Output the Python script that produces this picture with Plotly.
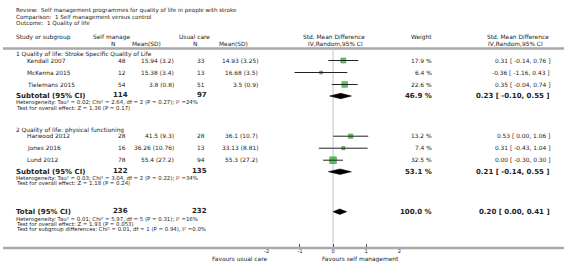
import math
import plotly.graph_objects as go

# ---------------- data ----------------
title_lines = [
    "Review:  Self management programmes for quality of life in people with stroke",
    "Comparison:  1 Self management versus control",
    "Outcome:  1 Quality of life",
]
group_titles = [
    "1 Quality of life: Stroke Specific Quality of Life",
    "2 Quality of life: physical functioning",
]
studies = [
    ["Kendall 2007", "McKenna 2015", "Tielemans 2015"],
    ["Harwood 2012", "Jones 2016", "Lund 2012"],
]
sm_n = [[48, 12, 54], [28, 16, 78]]
sm_mean = [["15.94 (3.2)", "15.38 (3.4)", "3.8 (0.8)"],
           ["41.5 (9.3)", "36.26 (10.76)", "55.4 (27.2)"]]
uc_n = [[33, 13, 51], [28, 13, 94]]
uc_mean = [["14.93 (3.25)", "16.68 (3.5)", "3.5 (0.9)"],
           ["36.1 (10.7)", "33.13 (8.81)", "55.3 (27.2)"]]
smd = [[0.31, -0.36, 0.35], [0.53, 0.31, 0.00]]
lo = [[-0.14, -1.16, -0.04], [0.00, -0.43, -0.30]]
hi = [[0.76, 0.43, 0.74], [1.06, 1.04, 0.30]]
weight = [[17.9, 6.4, 22.6], [13.2, 7.4, 32.5]]

sub_n_sm = [114, 122]
sub_n_uc = [97, 135]
sub_est = [0.23, 0.21]
sub_lo = [-0.10, -0.14]
sub_hi = [0.55, 0.55]
sub_w = [46.9, 53.1]
sub_het = [
    "Heterogeneity: Tau² = 0.02; Chi² = 2.64, df = 2 (P = 0.27); I² =24%",
    "Heterogeneity: Tau² = 0.03; Chi² = 3.04, df = 2 (P = 0.22); I² =34%",
]
sub_test = [
    "Test for overall effect: Z = 1.36 (P = 0.17)",
    "Test for overall effect: Z = 1.18 (P = 0.24)",
]
tot_n_sm, tot_n_uc = 236, 232
tot_est, tot_lo, tot_hi, tot_w = 0.20, 0.00, 0.41, 100.0
tot_lines = [
    "Heterogeneity: Tau² = 0.01; Chi² = 5.97, df = 5 (P = 0.31); I² =16%",
    "Test for overall effect: Z = 1.93 (P = 0.053)",
    "Test for subgroup differences: Chi² = 0.01, df = 1 (P = 0.94), I² =0.0%",
]
tick_vals = [-2, -1, 0, 1, 2]
tick_text = ["-2", "-1", "0", "1", "2"]
favours_left = "Favours usual care"
favours_right = "Favours self management"

# ---------------- layout constants (pixels) ----------------
W, H = 566, 272
FONT = "DejaVu Sans"
TXT = "#222222"
FS = 5.9
FS_TITLE = 5.6
FS_SMALL = 5.4
FS_BOLD = 7.0
AX_LEFT, AX_RIGHT = 266, 400
AX_Y = 248
TOP_LINE = 48.5
group_start = [60.5, 136.2]
ROW_STEP = 12

ann = []


def txt(x, y, s, anchor="left", size=FS, bold=False, color=TXT):
    ann.append(dict(
        x=x / W, y=y, xref="paper", yref="y", text=("<b>%s</b>" % s) if bold else s,
        showarrow=False, xanchor=anchor, yanchor="middle", borderpad=0, borderwidth=0,
        font=dict(family=FONT, size=size, color=color)))


fig = go.Figure()

# header
for i, s in enumerate(title_lines):
    txt(13, 10.8 + i * 6.5, s, size=FS_TITLE)
H1, H2 = 37.0, 43.5
txt(13, H1, "Study or subgroup", size=FS)
txt(109.5, H1, "Self manage", "center")
txt(110.5, H2, "N", "center")
txt(159, H2, "Mean(SD)", "right")
txt(193.5, H1, "Usual care", "center")
txt(194, H2, "N", "center")
txt(247, H2, "Mean(SD)", "right")
txt(333.5, H1, "Std. Mean Difference", "center")
txt(335, H2, "IV,Random,95% CI", "center")
txt(433, H1, "Weight", "right")
txt(520, H1, "Std. Mean Difference", "center")
txt(517, H2, "IV,Random,95% CI", "center")

GREEN_FILL = "#10b810"
GREEN_EDGE = "#006600"

diamonds = []
for g in range(2):
    y0 = group_start[g]
    txt(13, y0 - 6, group_titles[g])
    ys = []
    for i in range(3):
        y = y0 + i * ROW_STEP
        ys.append(y)
        txt(24, y, studies[g][i])
        txt(124, y, str(sm_n[g][i]), "right")
        txt(173, y, sm_mean[g][i], "right")
        txt(204, y, str(uc_n[g][i]), "right")
        txt(257, y, uc_mean[g][i], "right")
        txt(433, y, "%.1f %%" % weight[g][i], "right")
        txt(551.5, y, "%.2f [ %.2f, %.2f ]" % (smd[g][i], lo[g][i], hi[g][i]), "right")
    # squares
    fig.add_trace(go.Scatter(
        x=smd[g], y=ys, mode="markers", hoverinfo="skip",
        marker=dict(symbol="square", size=[1.15 * math.sqrt(w) for w in weight[g]],
                    color=GREEN_FILL, line=dict(color=GREEN_EDGE, width=0.7))))
    # CI lines
    for i in range(3):
        fig.add_trace(go.Scatter(x=[lo[g][i], hi[g][i]], y=[ys[i], ys[i]], mode="lines",
                                 hoverinfo="skip", line=dict(color="#222222", width=1)))
    ysub = y0 + 3 * ROW_STEP - 0.5
    txt(13, ysub, "Subtotal (95% CI)", size=FS_BOLD, bold=True)
    txt(126, ysub - 1, str(sub_n_sm[g]), "right", size=FS_BOLD, bold=True)
    txt(206, ysub - 1, str(sub_n_uc[g]), "right", size=FS_BOLD, bold=True)
    txt(433, ysub, "%.1f %%" % sub_w[g], "right", size=FS_BOLD, bold=True)
    txt(551.5, ysub, "%.2f [ %.2f, %.2f ]" % (sub_est[g], sub_lo[g], sub_hi[g]), "right",
        size=FS_BOLD, bold=True)
    txt(13, ysub + 6.5, sub_het[g], size=FS_SMALL)
    txt(13, ysub + 11.5, sub_test[g], size=FS_SMALL)
    diamonds.append((sub_lo[g], sub_est[g], sub_hi[g], ysub))

YT = 211.7
txt(13, YT, "Total (95% CI)", size=FS_BOLD, bold=True)
txt(126, YT - 1, str(tot_n_sm), "right", size=FS_BOLD, bold=True)
txt(206, YT - 1, str(tot_n_uc), "right", size=FS_BOLD, bold=True)
txt(433, YT, "%.1f %%" % tot_w, "right", size=FS_BOLD, bold=True)
txt(551.5, YT, "%.2f [ %.2f, %.2f ]" % (tot_est, tot_lo, tot_hi), "right", size=FS_BOLD, bold=True)
for i, s in enumerate(tot_lines):
    txt(13, YT + 7.5 + i * 5, s, size=FS_SMALL)
diamonds.append((tot_lo, tot_est, tot_hi, YT))

for (a, m, b, y) in diamonds:
    h = 2.7
    fig.add_trace(go.Scatter(x=[a, m, b, m, a], y=[y, y - h, y, y + h, y], mode="lines",
                             fill="toself", fillcolor="#000000", hoverinfo="skip",
                             line=dict(color="#000000", width=0.6)))

# favours labels
txt(AX_LEFT, 259, favours_left, "right", size=FS)
txt(AX_RIGHT, 259, favours_right, "right", size=FS)

# lines
shapes = [
    dict(type="line", xref="paper", yref="y", x0=0, x1=1, y0=TOP_LINE, y1=TOP_LINE,
         line=dict(color="#a9a9a9", width=2.5), layer="below"),
    dict(type="line", xref="paper", yref="y", x0=0, x1=1, y0=AX_Y, y1=AX_Y,
         line=dict(color="#a9a9a9", width=2.5), layer="below"),
    dict(type="line", xref="x", yref="y", x0=0, x1=0, y0=TOP_LINE, y1=AX_Y,
         line=dict(color="#c4c4c4", width=1), layer="below"),
]

fig.update_layout(
    width=W, height=H, autosize=False, margin=dict(l=0, r=0, t=0, b=0),
    paper_bgcolor="white", plot_bgcolor="rgba(0,0,0,0)", showlegend=False,
    hovermode=False,
    annotations=ann, shapes=shapes,
    xaxis=dict(domain=[AX_LEFT / W, AX_RIGHT / W], range=[-2, 2], anchor="free",
               position=1 - (AX_Y - 1.2) / H, showgrid=False, zeroline=False, showline=False,
               tickvals=tick_vals, ticktext=tick_text, ticks="inside", ticklen=3,
               tickcolor="#555555", tickwidth=1,
               tickfont=dict(family=FONT, size=5.2, color=TXT), fixedrange=True),
    yaxis=dict(domain=[0, 1], range=[H, 0], visible=False, fixedrange=True),
)

fig.write_html("out.html", config={"displayModeBar": False, "staticPlot": True},
               post_script="document.body.style.margin='0';document.body.style.overflow='hidden';")
